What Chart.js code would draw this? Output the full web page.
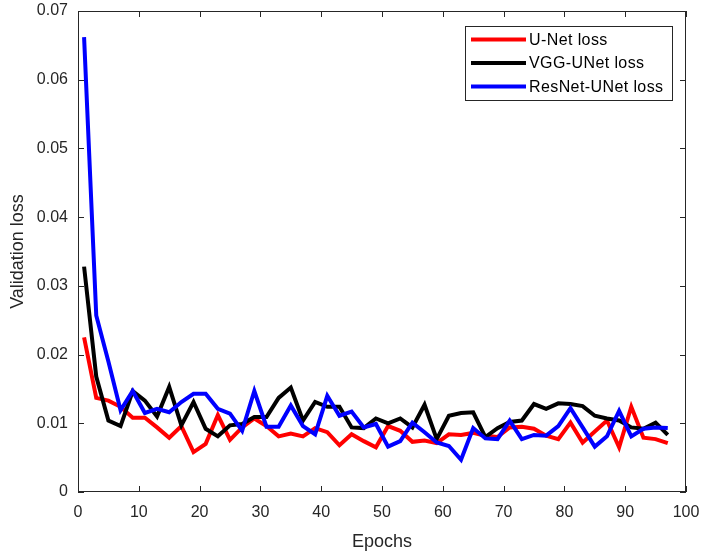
<!DOCTYPE html>
<html><head><meta charset="utf-8">
<script src="https://cdn.jsdelivr.net/npm/chart.js@4.4.1/dist/chart.umd.min.js"></script>
<style>html,body{margin:0;padding:0;background:#fff;}#wrap{width:704px;height:555px;position:relative;}</style>
</head><body><div id="wrap"><canvas id="c"></canvas></div>
<script>
const epochs = [1,3,5,7,9,11,13,15,17,19,21,23,25,27,29,31,33,35,37,39,41,43,45,47,49,51,53,55,57,59,61,63,65,67,69,71,73,75,77,79,81,83,85,87,89,91,93,95,97];
const unetLoss = [0.0225,0.0137,0.0133,0.0124,0.0108,0.0108,0.0094,0.0079,0.0096,0.0058,0.0070,0.0112,0.0076,0.0094,0.0107,0.0096,0.0081,0.0085,0.0081,0.0093,0.0087,0.0068,0.0084,0.0074,0.0065,0.0096,0.0089,0.0073,0.0075,0.0071,0.0084,0.0083,0.0086,0.0082,0.0080,0.0094,0.0095,0.0092,0.0082,0.0077,0.0101,0.0072,0.0088,0.0104,0.0065,0.0124,0.0079,0.0077,0.0071];
const vggLoss = [0.0328,0.0168,0.0104,0.0096,0.0147,0.0133,0.0110,0.0153,0.0097,0.0131,0.0092,0.0081,0.0097,0.0099,0.0109,0.0109,0.0137,0.0152,0.0104,0.0131,0.0124,0.0124,0.0094,0.0093,0.0107,0.0100,0.0107,0.0094,0.0127,0.0077,0.0111,0.0115,0.0116,0.0080,0.0093,0.0102,0.0104,0.0128,0.0121,0.0129,0.0128,0.0125,0.0111,0.0107,0.0104,0.0094,0.0092,0.0101,0.0083];
const resnetLoss = [0.0662,0.0257,0.0190,0.0119,0.0147,0.0115,0.0121,0.0116,0.0131,0.0143,0.0143,0.0121,0.0114,0.0089,0.0147,0.0095,0.0095,0.0126,0.0096,0.0084,0.0140,0.0111,0.0117,0.0094,0.0099,0.0066,0.0074,0.0101,0.0087,0.0072,0.0067,0.0047,0.0093,0.0078,0.0077,0.0104,0.0077,0.0083,0.0082,0.0096,0.0122,0.0094,0.0066,0.0081,0.0118,0.0081,0.0092,0.0094,0.0093];
const seriesNames = ['U-Net loss','VGG-UNet loss','ResNet-UNet loss'];
const seriesColors = ['#ff0000','#000000','#0000ff'];
const xTickValues = [0,10,20,30,40,50,60,70,80,90,100];
const yTickValues = [0,0.01,0.02,0.03,0.04,0.05,0.06,0.07];
const yTickLabels = ['0','0.01','0.02','0.03','0.04','0.05','0.06','0.07'];

const FONT = '"Liberation Sans", Arial, Helvetica, sans-serif';
const AXC = '#262626';

function pts(vals){ return epochs.map((e,i)=>({x:e,y:vals[i]})); }

const framePlugin = {
  id:'frame',
  afterDatasetsDraw(chart){
    const {ctx, chartArea:a, scales:{x,y}} = chart;
    ctx.save();
    ctx.strokeStyle = AXC; ctx.lineWidth = 1;
    ctx.strokeRect(Math.round(a.left)+0.5, Math.round(a.top)+0.5, Math.round(a.right-a.left)-1, Math.round(a.bottom-a.top)-1);
    const L = 6;
    ctx.beginPath();
    xTickValues.forEach(v=>{
      const px = Math.round(x.getPixelForValue(v))+0.5;
      ctx.moveTo(px,a.bottom); ctx.lineTo(px,a.bottom-L);
      ctx.moveTo(px,a.top); ctx.lineTo(px,a.top+L);
    });
    yTickValues.forEach(v=>{
      const py = Math.round(y.getPixelForValue(v))+0.5;
      ctx.moveTo(a.left,py); ctx.lineTo(a.left+L,py);
      ctx.moveTo(a.right,py); ctx.lineTo(a.right-L,py);
    });
    ctx.stroke();
    // legend
    const bx = Math.round(a.right)-221, by = Math.round(a.top)+15, bw = 207, bh = 74;
    ctx.fillStyle = '#fff';
    ctx.fillRect(bx,by,bw,bh);
    ctx.strokeRect(bx+0.5,by+0.5,bw,bh);
    ctx.font = '16px ' + FONT;
    if ('letterSpacing' in ctx) ctx.letterSpacing = '0.4px';
    ctx.textBaseline = 'middle';
    chart.data.datasets.forEach((ds,i)=>{
      const ry = by + 13.5 + i*23.5;
      ctx.strokeStyle = ds.borderColor; ctx.lineWidth = 4;
      ctx.beginPath(); ctx.moveTo(bx+6,ry); ctx.lineTo(bx+61,ry); ctx.stroke();
      ctx.fillStyle = '#000';
      ctx.fillText(ds.label, bx+64, ry+1);
    });
    ctx.restore();
  }
};

new Chart(document.getElementById('c'), {
  type:'line',
  data:{ datasets:[
    {label:seriesNames[0], data:pts(unetLoss), borderColor:seriesColors[0], order:2},
    {label:seriesNames[1], data:pts(vggLoss), borderColor:seriesColors[1], order:1},
    {label:seriesNames[2], data:pts(resnetLoss), borderColor:seriesColors[2], order:0}
  ]},
  options:{
    responsive:true, maintainAspectRatio:false, animation:false,
    devicePixelRatio:1,
    layout:{padding:{left:0,top:11,right:18,bottom:0}},
    elements:{ line:{borderWidth:4, tension:0, fill:false, borderJoinStyle:'miter'}, point:{radius:0, hoverRadius:0} },
    plugins:{ legend:{display:false}, tooltip:{enabled:false} },
    scales:{
      x:{ type:'linear', min:0, max:100,
        afterBuildTicks(s){ s.ticks = xTickValues.map(v=>({value:v})); },
        afterFit(s){ s.height = 63; s.paddingLeft = 0; s.paddingRight = 0; },
        grid:{display:false, drawTicks:false}, border:{display:false},
        ticks:{ padding:11, color:AXC, font:{family:FONT,size:16}, maxRotation:0, autoSkip:false },
        title:{ display:true, text:'Epochs', color:AXC, font:{family:FONT,size:18}, padding:{top:0,bottom:2} }
      },
      y:{ type:'linear', min:0, max:0.07,
        afterBuildTicks(s){ s.ticks = yTickValues.map(v=>({value:v})); },
        afterFit(s){ s.width = 78; s.paddingTop = 0; s.paddingBottom = 0; },
        grid:{display:false, drawTicks:false}, border:{display:false},
        ticks:{ padding:10, color:AXC, font:{family:FONT,size:16}, autoSkip:false,
          callback:(v,i)=>yTickLabels[i] },
        title:{ display:true, text:'Validation loss', color:AXC, font:{family:FONT,size:18}, padding:{top:7,bottom:0} }
      }
    }
  },
  plugins:[framePlugin]
});
</script></body></html>
